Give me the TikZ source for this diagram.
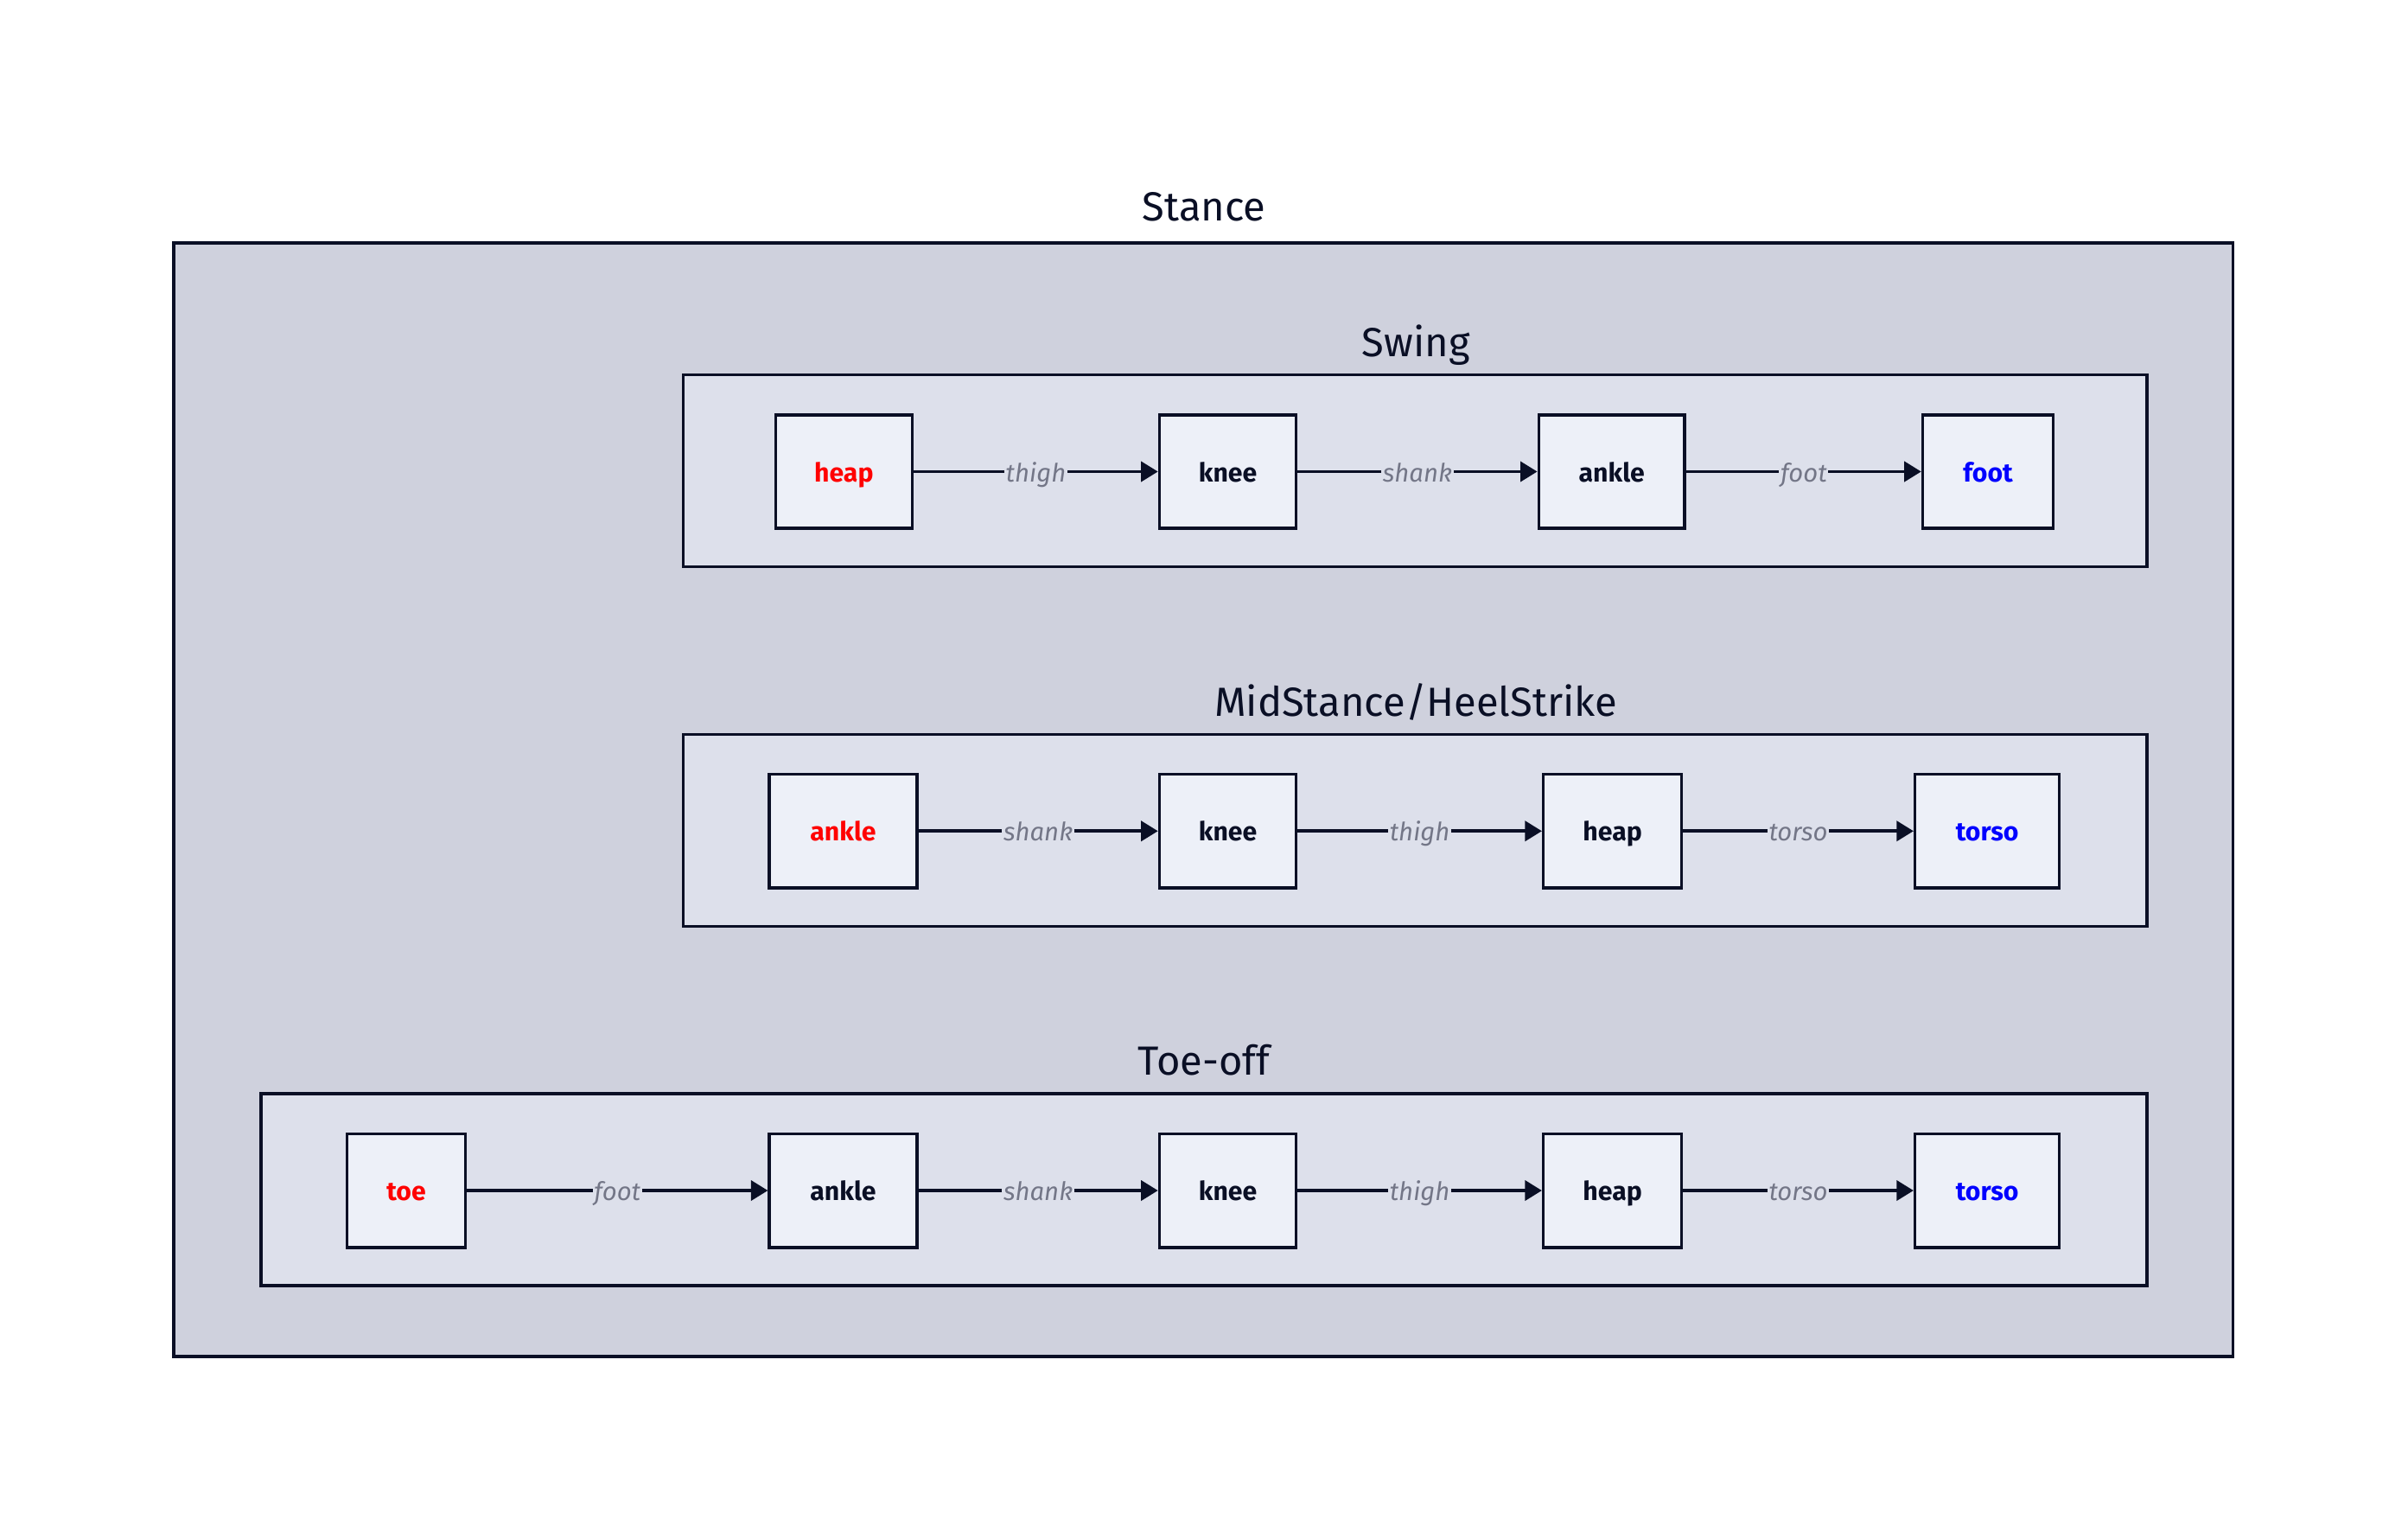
\documentclass[tikz,border=0pt]{standalone}
\usepackage{fontspec}
\setmainfont{Fira Sans}
\usetikzlibrary{arrows.meta}
\definecolor{ink}{HTML}{0A0F25}
\definecolor{outerfill}{HTML}{CFD1DD}
\definecolor{groupfill}{HTML}{DDE0EB}
\definecolor{nodefill}{HTML}{EDF0F8}
\definecolor{edgetext}{HTML}{737687}
\definecolor{startred}{HTML}{FF0000}
\definecolor{endblue}{HTML}{0000FF}

\begin{document}
\begin{tikzpicture}[x=1pt,y=-1pt,
  frame/.style={draw=ink, line width=2.2pt, fill=outerfill, inner sep=0pt},
  group/.style={draw=ink, line width=2pt, fill=groupfill, inner sep=0pt},
  title/.style={text=ink, font=\fontsize{26.5}{32}\selectfont, inner sep=0pt, anchor=base},
  joint/.style={draw=ink, line width=2pt, fill=nodefill, minimum height=74pt,
    minimum width=#1, inner sep=0pt, text height=16pt, text depth=3pt,
    font=\bfseries\fontsize{17}{20}\selectfont, text=ink},
  link/.style={draw=ink, line width=2pt, -{Triangle[length=11pt,width=13pt]}},
  lbl/.style={fill=groupfill, text=edgetext, font=\itshape\fontsize{16.5}{19}\selectfont,
    inner xsep=1pt, inner ysep=0pt, text height=16pt, text depth=3pt}
]
% canvas
\useasboundingbox (0,0) rectangle (1568,997);
\fill[white] (0,0) rectangle (1568,997);

% outer phase
\node[frame, minimum width=1341pt, minimum height=725pt] (stance) at (783.5,520.5) {};
\node[title] (stanceT) at (784,144) {Stance};

% sub-phase containers
\node[group, minimum width=953pt, minimum height=125pt] (swing) at (921.5,306.5) {};
\node[title] (swingT) at (922,232) {Swing};
\node[group, minimum width=953pt, minimum height=125pt] (mid) at (921.5,540.5) {};
\node[title] (midT) at (922,466) {MidStance/HeelStrike};
\node[group, minimum width=1228pt, minimum height=125pt] (toeoff) at (784,774.5) {};
\node[title] (toeT) at (784,700) {Toe-off};

% Swing chain
\node[joint=89pt, text=startred] (heapA) at (549.5,307) {heap};
\node[joint=89pt] (kneeA) at (799.5,307) {knee};
\node[joint=95pt] (ankleA) at (1049.5,307) {ankle};
\node[joint=85pt, text=endblue] (footA) at (1294.5,307) {foot};
\draw[link] (heapA) -- node[lbl] {thigh} (kneeA);
\draw[link] (kneeA) -- node[lbl] {shank} (ankleA);
\draw[link] (ankleA) -- node[lbl] {foot} (footA);

% MidStance/HeelStrike chain
\node[joint=96pt, text=startred] (ankleB) at (549,541) {ankle};
\node[joint=89pt] (kneeB) at (799.5,541) {knee};
\node[joint=90pt] (heapB) at (1050,541) {heap};
\node[joint=94pt, text=endblue] (torsoB) at (1294,541) {torso};
\draw[link] (ankleB) -- node[lbl] {shank} (kneeB);
\draw[link] (kneeB) -- node[lbl] {thigh} (heapB);
\draw[link] (heapB) -- node[lbl] {torso} (torsoB);

% Toe-off chain
\node[joint=77pt, text=startred] (toeC) at (264.5,775) {toe};
\node[joint=96pt] (ankleC) at (549,775) {ankle};
\node[joint=89pt] (kneeC) at (799.5,775) {knee};
\node[joint=90pt] (heapC) at (1050,775) {heap};
\node[joint=94pt, text=endblue] (torsoC) at (1294,775) {torso};
\draw[link] (toeC) -- node[lbl] {foot} (ankleC);
\draw[link] (ankleC) -- node[lbl] {shank} (kneeC);
\draw[link] (kneeC) -- node[lbl] {thigh} (heapC);
\draw[link] (heapC) -- node[lbl] {torso} (torsoC);
\end{tikzpicture}
\end{document}
